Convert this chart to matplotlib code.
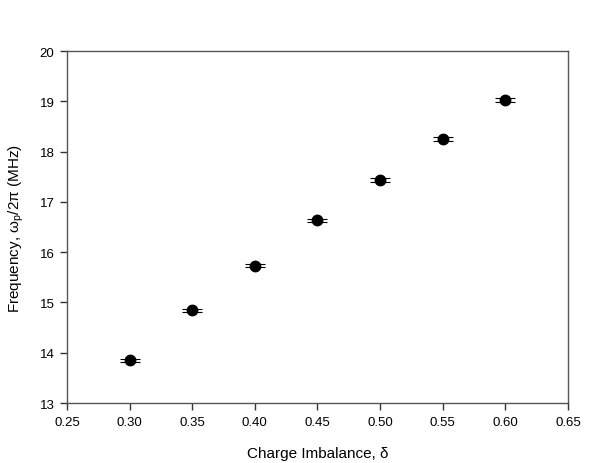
import numpy as np
import matplotlib.pyplot as plt

plt.rcParams['font.family'] = ['Liberation Sans', 'DejaVu Sans']

# data
delta = [0.30, 0.35, 0.40, 0.45, 0.50, 0.55, 0.60]
freq = [13.85, 14.84, 15.73, 16.63, 17.44, 18.25, 19.03]
ferr = [0.035, 0.035, 0.035, 0.035, 0.035, 0.035, 0.035]

xticks = [0.25, 0.30, 0.35, 0.40, 0.45, 0.50, 0.55, 0.60, 0.65]
yticks = [13, 14, 15, 16, 17, 18, 19, 20]

fig = plt.figure(figsize=(5.95, 4.64), dpi=100)
ax = fig.add_axes([0.1126, 0.1293, 0.842, 0.7586])

ax.errorbar(delta, freq, yerr=ferr, fmt='o', color='black', ms=7.5,
            capsize=7, capthick=0.8, elinewidth=0.8, zorder=3)

ax.set_xlim(0.25, 0.65)
ax.set_ylim(13, 20)
ax.set_xticks(xticks)
ax.set_xticklabels(['%.2f' % v for v in xticks])
ax.set_yticks(yticks)

for s in ax.spines.values():
    s.set_color('#555555')
    s.set_linewidth(1.0)
ax.tick_params(direction='out', length=5, width=1.0, color='#333333',
               labelsize=9.5, pad=4, top=False, right=False)

ax.set_xlabel('Charge Imbalance, δ', fontsize=11, labelpad=13)
ax.set_ylabel('Frequency, ω$_\\mathregular{p}$/2π (MHz)', fontsize=11, labelpad=10)

fig.savefig('out.png', dpi=100)
